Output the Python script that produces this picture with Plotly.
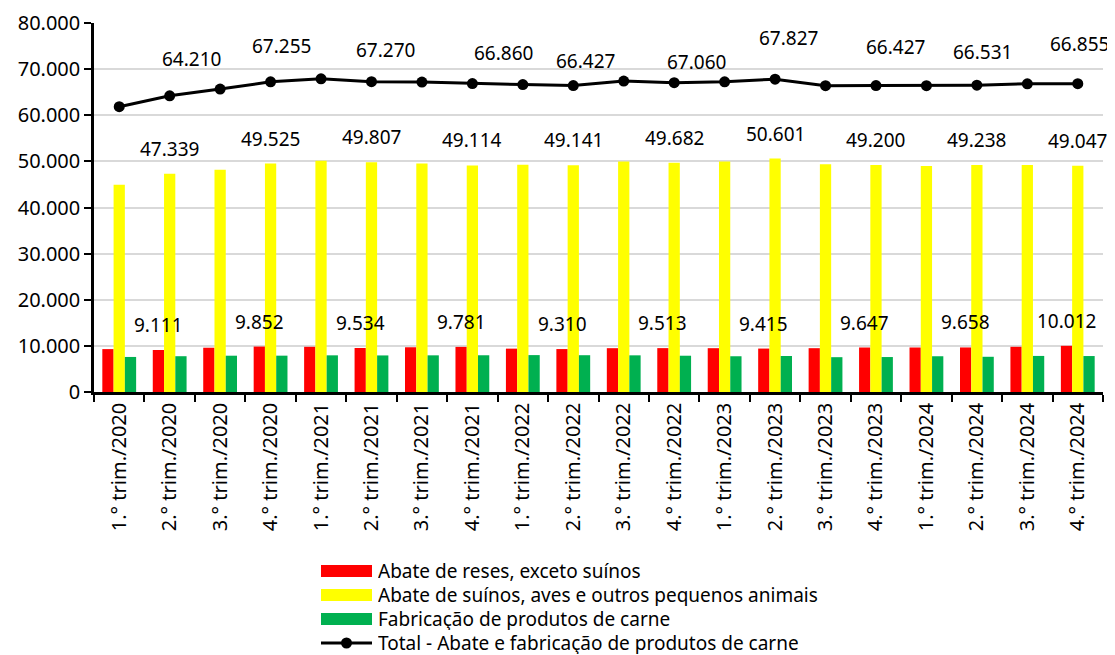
import plotly.graph_objects as go

# ---------------- data ----------------
categories = [
    "1.° trim./2020", "2.° trim./2020", "3.° trim./2020", "4.° trim./2020",
    "1.° trim./2021", "2.° trim./2021", "3.° trim./2021", "4.° trim./2021",
    "1.° trim./2022", "2.° trim./2022", "3.° trim./2022", "4.° trim./2022",
    "1.° trim./2023", "2.° trim./2023", "3.° trim./2023", "4.° trim./2023",
    "1.° trim./2024", "2.° trim./2024", "3.° trim./2024", "4.° trim./2024",
]
reses = [9300, 9111, 9600, 9852, 9800, 9534, 9700, 9781, 9400, 9310,
         9500, 9513, 9500, 9415, 9500, 9647, 9650, 9658, 9800, 10012]
suinos_aves = [44950, 47339, 48200, 49525, 50150, 49807, 49550, 49114, 49250, 49141,
               49950, 49682, 50000, 50601, 49350, 49200, 49000, 49238, 49200, 49047]
fabricacao = [7600, 7760, 7870, 7878, 7950, 7929, 7950, 7965, 8000, 7976,
              7950, 7865, 7750, 7811, 7550, 7580, 7750, 7635, 7820, 7796]
total = [61850, 64210, 65670, 67255, 67900, 67270, 67200, 66860, 66650, 66427,
         67400, 67060, 67250, 67827, 66400, 66427, 66400, 66531, 66820, 66855]

series_names = [
    "Abate de reses, exceto suínos",
    "Abate de suínos, aves e outros pequenos animais",
    "Fabricação de produtos de carne",
    "Total - Abate e fabricação de produtos de carne",
]
y_ticks = [0, 10000, 20000, 30000, 40000, 50000, 60000, 70000, 80000]

# ---------------- style ----------------
FONT = "Noto Sans"
COLORS = ["#FF0000", "#FFFF00", "#00B050", "#000000"]
PAGE_OFF = 8                       # default page body margin
W, H = 1115 - PAGE_OFF, 655 - PAGE_OFF
M_L, M_R, M_T, M_B = 94 - PAGE_OFF, 12, 23 - PAGE_OFF, 263
BARGAP = 0.33
plot_w = W - M_L - M_R
plot_h = H - M_T - M_B
# manual placement of the total-line labels (pixel offsets from each labelled point)
LINE_LABEL_DX = [22, 11, 14, 31, 12, 22, 13, 20, 6, 2]
LINE_LABEL_DY = [37, 36, 32, 31, 25, 21, 41, 39, 33, 40]


def fmt(v):
    return f"{v:,}".replace(",", ".")


def px_x(px):   # screen pixel -> paper x
    return (px - PAGE_OFF - M_L) / plot_w


def px_y(py):   # screen pixel -> paper y
    return (H - M_B - (py - PAGE_OFF)) / plot_h


fig = go.Figure()
bar_series = [reses, suinos_aves, fabricacao]
for name, vals, col in zip(series_names[:3], bar_series, COLORS[:3]):
    fig.add_trace(go.Bar(x=categories, y=vals, name=name, marker_color=col,
                         marker_line_width=0, showlegend=False))

fig.add_trace(go.Scatter(
    x=categories, y=total, name=series_names[3], mode="lines+markers",
    line=dict(color="black", width=3),
    marker=dict(color="black", size=11, symbol="circle"),
    showlegend=False,
))

# data labels (every other period, as in the reference; none for the green series)
cat_w = plot_w / len(categories)
bar_w = cat_w * (1 - BARGAP) / 3
annotations = []
for k, vals in enumerate(bar_series[:2]):
    xs = (k - 1) * bar_w
    for i, v in enumerate(vals):
        if i % 2 == 1:
            annotations.append(dict(
                x=categories[i], y=v, xref="x", yref="y", text=fmt(v),
                showarrow=False, xshift=xs, yshift=25, yanchor="middle",
                font=dict(family=FONT, size=19, color="black")))
j = 0
for i, v in enumerate(total):
    if i % 2 == 1:
        annotations.append(dict(
            x=categories[i], y=v, xref="x", yref="y", text=fmt(v),
            showarrow=False, xshift=LINE_LABEL_DX[j], yshift=LINE_LABEL_DY[j],
            yanchor="middle",
            font=dict(family=FONT, size=19, color="black")))
        j += 1

# ---------------- legend (drawn like the reference: wide swatches) ----------------
LEG_X0, LEG_X1, LEG_TXT = 321, 372, 377
LEG_ROWS = [571, 595, 619, 643]
shapes = []
for k in range(3):
    yc = LEG_ROWS[k]
    shapes.append(dict(type="rect", xref="paper", yref="paper",
                       x0=px_x(LEG_X0), x1=px_x(LEG_X1),
                       y0=px_y(yc + 6), y1=px_y(yc - 6),
                       fillcolor=COLORS[k], line=dict(width=0)))
yc = LEG_ROWS[3]
shapes.append(dict(type="line", xref="paper", yref="paper",
                   x0=px_x(LEG_X0), x1=px_x(LEG_X1), y0=px_y(yc), y1=px_y(yc),
                   line=dict(color="black", width=3)))
xm = (LEG_X0 + LEG_X1) / 2
shapes.append(dict(type="circle", xref="paper", yref="paper",
                   x0=px_x(xm - 5.5), x1=px_x(xm + 5.5),
                   y0=px_y(yc + 5.5), y1=px_y(yc - 5.5),
                   fillcolor="black", line=dict(color="black", width=0)))
for k, name in enumerate(series_names):
    annotations.append(dict(
        x=px_x(LEG_TXT), y=px_y(LEG_ROWS[k]), xref="paper", yref="paper",
        text=name, showarrow=False, xanchor="left", yanchor="middle",
        height=22, valign="middle", borderpad=0,
        font=dict(family=FONT, size=19, color="black")))

fig.update_layout(
    width=W, height=H,
    margin=dict(l=M_L, r=M_R, t=M_T, b=M_B, autoexpand=False),
    paper_bgcolor="white", plot_bgcolor="white",
    separators=",.",
    barmode="group", bargap=BARGAP, bargroupgap=0,
    font=dict(family=FONT, size=19, color="black"),
    annotations=annotations,
    shapes=shapes,
    showlegend=False,
)
fig.update_yaxes(
    range=[0, 80000], tickvals=y_ticks, tickformat=",d",
    showgrid=True, gridcolor="#D9D9D9", gridwidth=1.5,
    showline=True, linecolor="black", linewidth=2.5,
    ticks="outside", ticklen=7, tickwidth=2, tickcolor="black",
    tickfont=dict(family=FONT, size=20, color="black"),
    zeroline=False,
)
fig.update_xaxes(
    type="category", range=[-0.5, len(categories) - 0.5],
    tickangle=-90, tickson="boundaries",
    showline=True, linecolor="black", linewidth=2.5,
    ticks="outside", ticklen=7, tickwidth=2, tickcolor="black",
    tickfont=dict(family=FONT, size=20, color="black"),
    showgrid=False,
)

fig.write_html("out.html")
